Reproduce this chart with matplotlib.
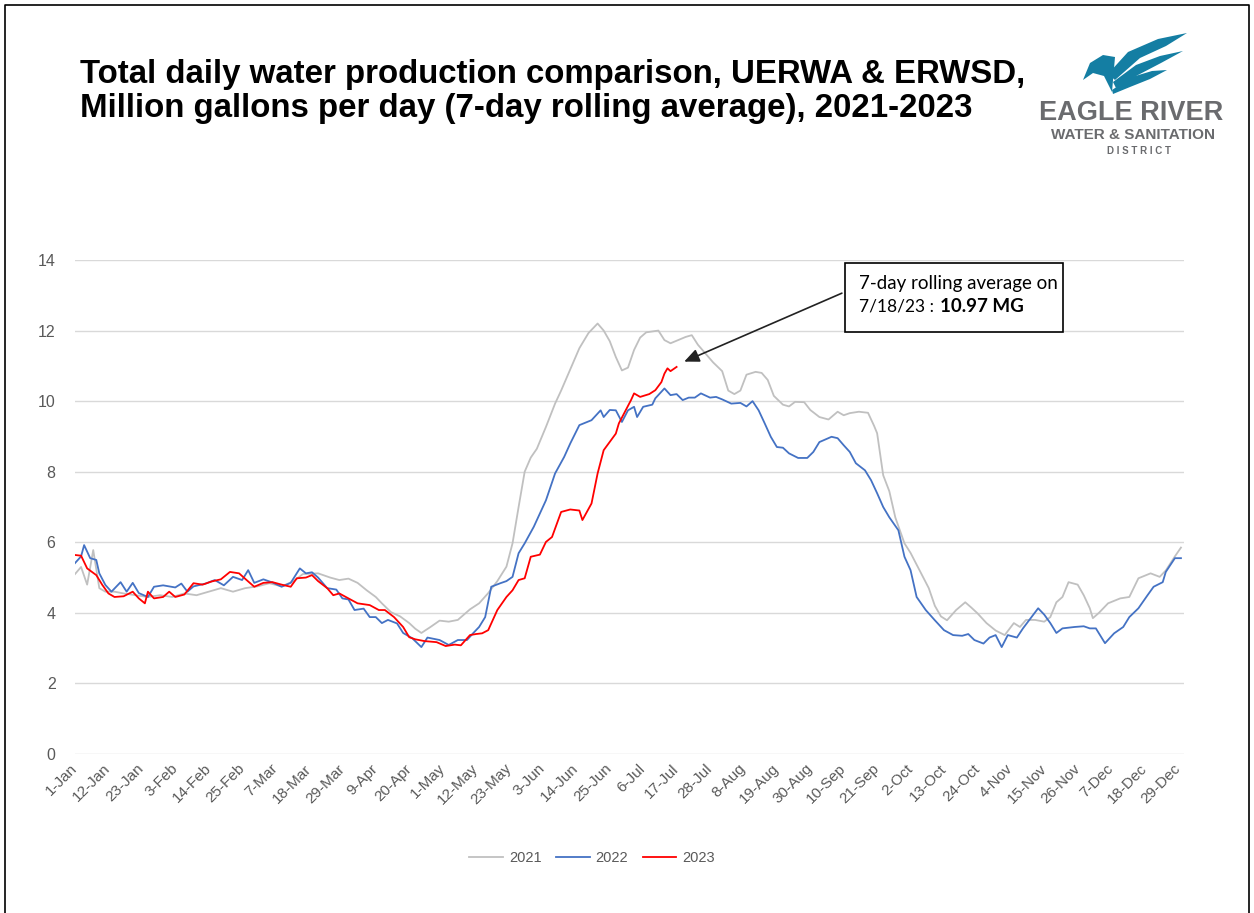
import matplotlib
matplotlib.use("Agg")
import matplotlib.pyplot as plt
from matplotlib.patches import Polygon, Rectangle

# ---------------- data ----------------
tick_labels = ["1-Jan", "12-Jan", "23-Jan", "3-Feb", "14-Feb", "25-Feb", "7-Mar", "18-Mar",
               "29-Mar", "9-Apr", "20-Apr", "1-May", "12-May", "23-May", "3-Jun", "14-Jun",
               "25-Jun", "6-Jul", "17-Jul", "28-Jul", "8-Aug", "19-Aug", "30-Aug", "10-Sep",
               "21-Sep", "2-Oct", "13-Oct", "24-Oct", "4-Nov", "15-Nov", "26-Nov", "7-Dec",
               "18-Dec", "29-Dec"]
tick_days = [0, 11, 22, 33, 44, 55, 66, 77, 88, 99, 110, 121, 132, 143, 154, 165, 176, 187,
             198, 209, 220, 231, 242, 253, 264, 275, 286, 297, 308, 319, 330, 341, 352, 363]

days_2021 = [0, 2, 4, 6, 8, 10, 13, 16, 20, 24, 28, 32, 36, 40, 44, 48, 52, 56, 60, 64, 68, 72,
             75, 80, 84, 87, 90, 93, 96, 99, 101, 104, 107, 110, 112, 114, 117, 120, 123, 126,
             128, 130, 133, 136, 139, 142, 144, 146, 148, 150, 152, 155, 158, 160, 163, 166,
             169, 172, 174, 176, 178, 180, 182, 184, 186, 188, 192, 194, 196, 199, 201, 203,
             205, 207, 210, 213, 215, 217, 219, 221, 224, 226, 228, 230, 233, 235, 237, 240,
             242, 245, 248, 251, 253, 255, 258, 261, 263, 264, 266, 268, 270, 273, 275, 278,
             281, 283, 285, 287, 290, 293, 295, 297, 300, 303, 306, 309, 311, 313, 316, 319,
             321, 323, 325, 327, 330, 332, 334, 335, 337, 340, 344, 347, 350, 354, 357, 359,
             362, 364]
vals_2021 = [5.1, 5.3, 4.8, 5.78, 4.7, 4.6, 4.6, 4.55, 4.5, 4.45, 4.5, 4.45, 4.55, 4.5, 4.6,
             4.7, 4.6, 4.7, 4.75, 4.84, 4.75, 4.9, 5.1, 5.12, 5.0, 4.93, 4.97, 4.85, 4.64, 4.45,
             4.27, 4.02, 3.9, 3.71, 3.55, 3.43, 3.6, 3.78, 3.75, 3.8, 3.95, 4.1, 4.27, 4.56, 4.9,
             5.31, 5.97, 7.0, 8.0, 8.4, 8.65, 9.27, 9.93, 10.3, 10.9, 11.5, 11.93, 12.2, 12.0,
             11.7, 11.25, 10.87, 10.95, 11.45, 11.8, 11.95, 12.0, 11.73, 11.64, 11.75, 11.82,
             11.87, 11.6, 11.4, 11.1, 10.85, 10.3, 10.2, 10.3, 10.75, 10.83, 10.8, 10.6, 10.15,
             9.9, 9.85, 9.98, 9.97, 9.75, 9.55, 9.48, 9.7, 9.6, 9.66, 9.7, 9.67, 9.3, 9.09, 7.9,
             7.45, 6.7, 5.97, 5.7, 5.2, 4.7, 4.2, 3.9, 3.79, 4.08, 4.3, 4.15, 3.99, 3.71, 3.5,
             3.37, 3.71, 3.6, 3.8, 3.8, 3.75, 3.88, 4.3, 4.45, 4.87, 4.8, 4.5, 4.13, 3.85, 4.0,
             4.27, 4.41, 4.45, 4.98, 5.12, 5.02, 5.2, 5.6, 5.85]

days_2022 = [0, 2, 3, 5, 7, 8, 10, 12, 15, 17, 19, 21, 24, 26, 29, 33, 35, 37, 39, 43, 46, 49,
             52, 55, 57, 59, 62, 65, 68, 71, 74, 76, 78, 80, 83, 86, 88, 90, 92, 95, 97, 99, 101,
             103, 106, 108, 111, 114, 116, 120, 123, 126, 129, 131, 133, 135, 137, 140, 142,
             144, 146, 148, 151, 155, 158, 161, 163, 166, 170, 173, 174, 176, 178, 180, 182,
             184, 185, 187, 190, 191, 194, 196, 198, 200, 202, 204, 206, 209, 211, 213, 216,
             219, 221, 223, 225, 227, 229, 231, 233, 235, 238, 241, 243, 245, 249, 251, 253,
             255, 257, 260, 262, 264, 266, 268, 271, 273, 275, 277, 280, 283, 286, 289, 292,
             294, 296, 299, 301, 303, 305, 307, 310, 312, 314, 317, 319, 321, 323, 325, 329,
             332, 334, 336, 339, 342, 345, 347, 350, 353, 355, 358, 359, 362, 364]
vals_2022 = [5.41, 5.6, 5.92, 5.55, 5.5, 5.12, 4.79, 4.6, 4.87, 4.6, 4.85, 4.56, 4.45, 4.74,
             4.78, 4.72, 4.83, 4.6, 4.75, 4.83, 4.93, 4.78, 5.02, 4.93, 5.21, 4.85, 4.95, 4.86,
             4.74, 4.85, 5.26, 5.12, 5.15, 5.0, 4.7, 4.66, 4.41, 4.38, 4.08, 4.12, 3.88, 3.88,
             3.71, 3.8, 3.7, 3.43, 3.28, 3.03, 3.3, 3.23, 3.09, 3.23, 3.23, 3.42, 3.6, 3.88,
             4.74, 4.84, 4.9, 5.02, 5.69, 5.97, 6.44, 7.19, 7.95, 8.42, 8.8, 9.32, 9.46, 9.74,
             9.55, 9.75, 9.74, 9.41, 9.74, 9.84, 9.55, 9.84, 9.9, 10.08, 10.36, 10.17, 10.2,
             10.03, 10.1, 10.1, 10.22, 10.1, 10.12, 10.05, 9.93, 9.95, 9.85, 10.0, 9.74, 9.37,
             8.99, 8.7, 8.68, 8.52, 8.39, 8.39, 8.56, 8.84, 8.99, 8.95, 8.75, 8.56, 8.24, 8.04,
             7.76, 7.39, 7.0, 6.71, 6.34, 5.59, 5.21, 4.45, 4.08, 3.79, 3.51, 3.37, 3.35, 3.4,
             3.23, 3.13, 3.3, 3.37, 3.03, 3.37, 3.3, 3.56, 3.79, 4.13, 3.95, 3.71, 3.43, 3.56,
             3.6, 3.62, 3.56, 3.56, 3.14, 3.42, 3.6, 3.88, 4.13, 4.5, 4.74, 4.87, 5.16, 5.55,
             5.55]

days_2023 = [0, 2, 4, 7, 9, 11, 13, 16, 19, 21, 23, 24, 26, 29, 31, 33, 36, 39, 42, 45, 48,
             51, 54, 57, 59, 62, 65, 68, 71, 73, 76, 78, 80, 83, 85, 87, 90, 93, 97, 100, 102,
             105, 108, 110, 112, 115, 119, 122, 125, 127, 130, 132, 134, 136, 137, 139, 142,
             144, 146, 148, 150, 153, 155, 157, 160, 163, 166, 167, 170, 172, 174, 178, 179,
             181, 183, 184, 186, 189, 191, 193, 194, 195, 196, 198]
vals_2023 = [5.64, 5.62, 5.26, 5.07, 4.79, 4.55, 4.45, 4.47, 4.6, 4.41, 4.27, 4.6, 4.41, 4.45,
             4.6, 4.45, 4.52, 4.84, 4.8, 4.89, 4.95, 5.16, 5.12, 4.89, 4.74, 4.85, 4.87, 4.8,
             4.74, 4.98, 5.0, 5.07, 4.9, 4.7, 4.5, 4.55, 4.41, 4.27, 4.22, 4.08, 4.08, 3.88, 3.6,
             3.31, 3.25, 3.2, 3.17, 3.06, 3.1, 3.08, 3.37, 3.4, 3.42, 3.51, 3.7, 4.08, 4.45,
             4.64, 4.93, 4.98, 5.59, 5.65, 6.01, 6.15, 6.86, 6.93, 6.9, 6.63, 7.1, 7.95, 8.61,
             9.08, 9.37, 9.7, 10.03, 10.22, 10.12, 10.2, 10.31, 10.54, 10.78, 10.93, 10.85,
             10.97]

series_names = ["2021", "2022", "2023"]
series_colors = ["#c0c0c0", "#4472c4", "#ff0000"]

title_line1 = "Total daily water production comparison, UERWA & ERWSD,"
title_line2 = "Million gallons per day (7-day rolling average), 2021-2023"
annot_line1 = "7-day rolling average on"
annot_line2a = "7/18/23 :"
annot_line2b = "10.97 MG"

# ---------------- figure ----------------
W, H = 1254, 913
fig = plt.figure(figsize=(W / 100, H / 100), dpi=100)
fig.patch.set_facecolor("white")

ax = fig.add_axes([75 / W, 1 - 754 / H, (1184 - 75) / W, (754 - 260) / H])
for d, v, c, n in zip([days_2021, days_2022, days_2023],
                      [vals_2021, vals_2022, vals_2023], series_colors, series_names):
    ax.plot(d, v, color=c, lw=1.3, label=n, solid_joinstyle="round")

ax.set_xlim(0, 365)
ax.set_ylim(0, 14)
ax.set_yticks(range(0, 15, 2))
ax.set_xticks(tick_days)
ax.set_xticklabels(tick_labels, rotation=45, ha="right", va="center",
                   rotation_mode="anchor", fontsize=11, color="#595959",
                   family="Liberation Sans")
ax.tick_params(axis="y", length=0, pad=14, labelsize=11.5, labelcolor="#595959")
ax.tick_params(axis="x", length=0, pad=9)
for lbl in ax.get_yticklabels():
    lbl.set_family("Liberation Sans")
ax.grid(axis="y", color="#d9d9d9", lw=1)
ax.set_axisbelow(True)
for s in ax.spines.values():
    s.set_visible(False)

leg = fig.legend(loc="center", bbox_to_anchor=(592 / W, 1 - 858 / H), ncol=3, frameon=False,
                 prop={"family": "Liberation Sans", "size": 10.5}, handlelength=2.3,
                 columnspacing=1.0, handletextpad=0.4)
for t in leg.get_texts():
    t.set_color("#595959")

# annotation arrow (points at last 2023 value)
ax.annotate("", xy=(days_2023[-1] + 2.5, vals_2023[-1] + 0.15), xytext=(252.4, 13.06),
            arrowprops=dict(arrowstyle="-|>,head_length=0.9,head_width=0.4", color="#222222",
                            lw=1.2, shrinkA=0, shrinkB=0))

# ---------------- overlay in pixel coordinates ----------------
ov = fig.add_axes([0, 0, 1, 1])
ov.set_xlim(0, W)
ov.set_ylim(H, 0)
ov.axis("off")
ov.patch.set_alpha(0)

# border
ov.plot([5, 5, 1249, 1249], [H + 5, 5, 5, H + 5], color="black", lw=1.2)

# title
ov.text(80, 83, title_line1, fontsize=23.8, fontweight="bold", family="Liberation Sans",
        va="baseline", ha="left", color="black")
ov.text(80, 117, title_line2, fontsize=23.8, fontweight="bold", family="Liberation Sans",
        va="baseline", ha="left", color="black")

# annotation box
ov.add_patch(Rectangle((845, 263), 218, 69, fill=True, facecolor="white", edgecolor="black",
                       lw=1.2, zorder=5))
ov.text(859, 283, annot_line1, fontsize=13.5, family="Lato", va="center", ha="left", zorder=6)
t2a = ov.text(859, 307, annot_line2a, fontsize=12.5, family="Lato", va="center", ha="left",
              zorder=6)
fig.canvas.draw()
bb = t2a.get_window_extent(renderer=fig.canvas.get_renderer())
x_end = ov.transData.inverted().transform((bb.x1, bb.y0))[0]
ov.text(x_end + 6, 307, annot_line2b, fontsize=13.5, family="Lato", fontweight="bold",
        va="center", ha="left", zorder=6)

# logo
teal = "#147ea3"
ov.add_patch(Polygon([(1083, 80), (1090, 63), (1103, 55), (1115, 57), (1112, 92), (1104, 76),
                      (1093, 73)], closed=True, color=teal, lw=0))
ov.add_patch(Polygon([(1108, 74), (1128, 52), (1158, 39), (1187, 33), (1166, 46), (1140, 58),
                      (1115, 80)], closed=True, color=teal, lw=0))
ov.add_patch(Polygon([(1113, 82), (1136, 65), (1160, 56), (1183, 51), (1161, 63), (1138, 75),
                      (1116, 88)], closed=True, color=teal, lw=0))
ov.add_patch(Polygon([(1112, 90), (1132, 77), (1152, 71), (1167, 70), (1150, 79), (1130, 87),
                      (1113, 94)], closed=True, color=teal, lw=0))
logo_gray = "#6a6b6e"
ov.text(1131, 120, "EAGLE RIVER", fontsize=19.5, fontweight="bold", family="Liberation Sans",
        color=logo_gray, ha="center", va="baseline")
ov.text(1133, 139, "WATER & SANITATION", fontsize=11, fontweight="bold",
        family="Liberation Sans", color=logo_gray, ha="center", va="baseline")
ov.text(1139, 154, "D I S T R I C T", fontsize=7, fontweight="bold", family="Liberation Sans",
        color=logo_gray, ha="center", va="baseline")

fig.savefig("out.png", dpi=100)
